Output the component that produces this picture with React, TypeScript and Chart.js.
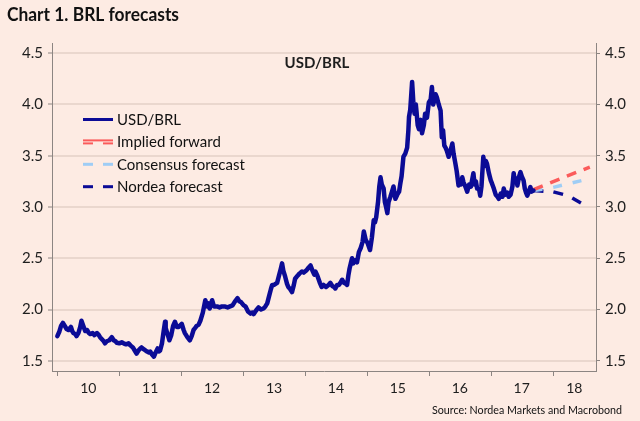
import { useEffect, useRef } from 'react';
import { Chart, registerables } from 'chart.js';

Chart.register(...registerables);

// ---------- data ----------
const chartTitle = 'Chart 1. BRL forecasts';
const innerTitle = 'USD/BRL';
const sourceText = 'Source: Nordea Markets and Macrobond';

const yearBoundaries = [2010, 2011, 2012, 2013, 2014, 2015, 2016, 2017, 2018];
const yearLabels = ['10', '11', '12', '13', '14', '15', '16', '17', '18'];
const yTickValues = [1.5, 2.0, 2.5, 3.0, 3.5, 4.0, 4.5];
const xMin = 2009.914;
const xMax = 2018.7;
const yMin = 1.4;
const yMax = 4.6;

// USD/BRL spot, [decimal year, value]
const usdbrl: [number, number][] = [
  [2010.0, 1.74], [2010.03, 1.78], [2010.06, 1.84], [2010.09, 1.87], [2010.12, 1.84],
  [2010.15, 1.81], [2010.18, 1.8], [2010.22, 1.83], [2010.24, 1.79], [2010.26, 1.77],
  [2010.29, 1.76], [2010.31, 1.74], [2010.34, 1.77], [2010.37, 1.83], [2010.39, 1.89],
  [2010.42, 1.84], [2010.45, 1.79], [2010.48, 1.8], [2010.51, 1.77], [2010.53, 1.76],
  [2010.57, 1.77], [2010.6, 1.75], [2010.64, 1.77], [2010.67, 1.75], [2010.69, 1.73],
  [2010.72, 1.71], [2010.75, 1.69], [2010.77, 1.67], [2010.8, 1.69], [2010.84, 1.7],
  [2010.88, 1.73], [2010.91, 1.7], [2010.94, 1.69], [2010.96, 1.675], [2011.0, 1.67],
  [2011.04, 1.68], [2011.07, 1.67], [2011.11, 1.66], [2011.15, 1.67], [2011.18, 1.65],
  [2011.22, 1.63], [2011.25, 1.6], [2011.28, 1.57], [2011.31, 1.6], [2011.34, 1.62],
  [2011.36, 1.63], [2011.4, 1.61], [2011.45, 1.59], [2011.48, 1.58], [2011.5, 1.59],
  [2011.53, 1.56], [2011.56, 1.54], [2011.58, 1.57], [2011.62, 1.62], [2011.64, 1.59],
  [2011.66, 1.6], [2011.69, 1.67], [2011.72, 1.8], [2011.74, 1.88], [2011.75, 1.82],
  [2011.77, 1.78], [2011.79, 1.74], [2011.81, 1.7], [2011.84, 1.75], [2011.87, 1.84],
  [2011.9, 1.88], [2011.93, 1.83], [2011.96, 1.83], [2012.01, 1.86], [2012.04, 1.8],
  [2012.06, 1.77], [2012.1, 1.73], [2012.14, 1.7], [2012.17, 1.74], [2012.2, 1.8],
  [2012.22, 1.815], [2012.25, 1.84], [2012.28, 1.85], [2012.31, 1.89], [2012.35, 1.97],
  [2012.39, 2.09], [2012.42, 2.03], [2012.44, 2.06], [2012.46, 2.01], [2012.48, 2.05],
  [2012.5, 2.09], [2012.53, 2.03], [2012.58, 2.03], [2012.62, 2.02], [2012.66, 2.03],
  [2012.7, 2.03], [2012.75, 2.02], [2012.79, 2.03], [2012.83, 2.04], [2012.87, 2.08],
  [2012.91, 2.11], [2012.94, 2.08], [2012.97, 2.07], [2013.01, 2.04], [2013.04, 2.03],
  [2013.08, 1.98], [2013.12, 1.96], [2013.15, 1.97], [2013.17, 1.955], [2013.21, 1.99],
  [2013.25, 2.02], [2013.29, 2.0], [2013.33, 2.01], [2013.36, 2.03], [2013.39, 2.06],
  [2013.42, 2.13], [2013.45, 2.2], [2013.47, 2.24], [2013.5, 2.24], [2013.55, 2.26],
  [2013.58, 2.33], [2013.61, 2.4], [2013.63, 2.45], [2013.65, 2.38], [2013.68, 2.32],
  [2013.71, 2.25], [2013.73, 2.22], [2013.76, 2.2], [2013.79, 2.17], [2013.82, 2.24],
  [2013.84, 2.3], [2013.88, 2.33], [2013.91, 2.35], [2013.95, 2.37], [2013.98, 2.36],
  [2014.02, 2.38], [2014.06, 2.41], [2014.09, 2.43], [2014.12, 2.38], [2014.15, 2.34],
  [2014.17, 2.37], [2014.2, 2.33], [2014.24, 2.26], [2014.27, 2.22], [2014.3, 2.24],
  [2014.34, 2.22], [2014.38, 2.24], [2014.41, 2.26], [2014.44, 2.23], [2014.47, 2.22],
  [2014.49, 2.205], [2014.52, 2.24], [2014.55, 2.24], [2014.58, 2.27], [2014.6, 2.29],
  [2014.63, 2.26], [2014.66, 2.25], [2014.68, 2.24], [2014.7, 2.33], [2014.72, 2.4],
  [2014.74, 2.45], [2014.76, 2.5], [2014.78, 2.45], [2014.81, 2.48], [2014.84, 2.46],
  [2014.87, 2.56], [2014.9, 2.6], [2014.93, 2.66], [2014.95, 2.76], [2014.98, 2.68],
  [2015.01, 2.65], [2015.05, 2.58], [2015.08, 2.7], [2015.11, 2.87], [2015.13, 2.85],
  [2015.15, 2.9], [2015.18, 3.05], [2015.2, 3.2], [2015.22, 3.29], [2015.24, 3.22],
  [2015.27, 3.18], [2015.29, 3.05], [2015.31, 3.0], [2015.33, 2.94], [2015.35, 3.05],
  [2015.38, 3.1], [2015.41, 3.16], [2015.43, 3.2], [2015.46, 3.08], [2015.49, 3.12],
  [2015.52, 3.15], [2015.54, 3.23], [2015.56, 3.3], [2015.59, 3.49], [2015.62, 3.52],
  [2015.65, 3.58], [2015.67, 3.75], [2015.68, 3.88], [2015.7, 3.95], [2015.73, 4.22],
  [2015.75, 4.02], [2015.77, 3.91], [2015.79, 4.0], [2015.8, 3.94], [2015.82, 3.8],
  [2015.84, 3.76], [2015.87, 3.85], [2015.89, 3.72], [2015.92, 3.8], [2015.94, 3.91],
  [2015.97, 3.87], [2016.0, 4.02], [2016.03, 4.05], [2016.05, 4.17], [2016.07, 4.0],
  [2016.09, 4.04], [2016.11, 4.1], [2016.13, 4.07], [2016.16, 4.0], [2016.19, 3.94],
  [2016.21, 3.68], [2016.23, 3.75], [2016.25, 3.6], [2016.27, 3.58], [2016.29, 3.55],
  [2016.32, 3.49], [2016.35, 3.55], [2016.38, 3.62], [2016.4, 3.52], [2016.43, 3.42],
  [2016.45, 3.35], [2016.48, 3.21], [2016.5, 3.25], [2016.52, 3.22], [2016.54, 3.29],
  [2016.56, 3.24], [2016.59, 3.2], [2016.62, 3.15], [2016.65, 3.22], [2016.68, 3.2],
  [2016.72, 3.33], [2016.74, 3.22], [2016.76, 3.25], [2016.78, 3.18], [2016.81, 3.18],
  [2016.83, 3.11], [2016.85, 3.2], [2016.88, 3.49], [2016.9, 3.4], [2016.92, 3.45],
  [2016.94, 3.42], [2016.97, 3.33], [2017.0, 3.26], [2017.02, 3.23], [2017.05, 3.18],
  [2017.08, 3.12], [2017.11, 3.1], [2017.13, 3.08], [2017.16, 3.13], [2017.19, 3.1],
  [2017.21, 3.18], [2017.24, 3.12], [2017.27, 3.14], [2017.29, 3.1], [2017.32, 3.12],
  [2017.35, 3.2], [2017.37, 3.33], [2017.39, 3.25], [2017.41, 3.28], [2017.43, 3.21],
  [2017.46, 3.3], [2017.48, 3.34], [2017.5, 3.3], [2017.53, 3.26], [2017.55, 3.18],
  [2017.57, 3.14], [2017.59, 3.11], [2017.61, 3.14], [2017.64, 3.195], [2017.66, 3.15],
  [2017.69, 3.16],
];

const impliedForward: [number, number][] = [[2017.69, 3.17], [2018.6, 3.39]];
const consensusForecast: [number, number][] = [[2017.69, 3.16], [2018.0, 3.19], [2018.48, 3.26]];
const nordeaForecast: [number, number][] = [[2017.69, 3.16], [2018.0, 3.15], [2018.25, 3.11], [2018.48, 3.03]];

// ---------- styles ----------
const BG = '#fdebe3';
const NAVY = '#0b0b96';
const RED = '#fb5b5b';
const LIGHTBLUE = '#9fcdf5';
const GRID = '#ead7ce';
const AXIS = '#8c8582';
const TEXT = '#1e1e1e';
const FONT = 'Lato, "Open Sans", sans-serif';

const toXY = (arr: [number, number][]) => arr.map(([x, y]) => ({ x, y }));

const decorPlugin = {
  id: 'decor',
  afterDraw(chart: any) {
    const { ctx, chartArea, scales } = chart;
    const xs = scales.x;
    ctx.save();
    // year boundary tick marks on x axis
    ctx.strokeStyle = AXIS;
    ctx.lineWidth = 1;
    yearBoundaries.forEach((yr) => {
      const px = Math.round(xs.getPixelForValue(yr)) + 0.5;
      ctx.beginPath();
      ctx.moveTo(px, chartArea.bottom);
      ctx.lineTo(px, chartArea.bottom + 5);
      ctx.stroke();
    });

    // inner title
    ctx.fillStyle = TEXT;
    ctx.font = `bold 15px ${FONT}`;
    ctx.textAlign = 'center';
    ctx.textBaseline = 'middle';
    ctx.fillText(innerTitle, (chartArea.left + chartArea.right) / 2 - 7, chartArea.top + 20.5);

    // legend
    const lx = chartArea.left + 31;
    const sw = 30;
    let ly = chartArea.top + 76.5;
    ctx.font = `15px ${FONT}`;
    ctx.textAlign = 'left';
    chart.data.datasets.forEach((ds: any, i: number) => {
      ctx.strokeStyle = ds.borderColor;
      ctx.lineCap = 'butt';
      if (i === 0) {
        ctx.lineWidth = 3;
        ctx.setLineDash([]);
        ctx.beginPath();
        ctx.moveTo(lx, ly);
        ctx.lineTo(lx + sw, ly);
        ctx.stroke();
      } else if (i === 1) {
        ctx.lineWidth = 2;
        ctx.setLineDash([]);
        ctx.beginPath();
        ctx.moveTo(lx, ly - 1.5);
        ctx.lineTo(lx + sw, ly - 1.5);
        ctx.stroke();
        ctx.setLineDash([10, 10]);
        ctx.beginPath();
        ctx.moveTo(lx, ly + 1.5);
        ctx.lineTo(lx + sw, ly + 1.5);
        ctx.stroke();
      } else {
        ctx.lineWidth = 3;
        ctx.setLineDash([10, 10]);
        ctx.beginPath();
        ctx.moveTo(lx, ly);
        ctx.lineTo(lx + sw, ly);
        ctx.stroke();
      }
      ctx.setLineDash([]);
      ctx.fillStyle = '#111';
      ctx.fillText(ds.label, lx + sw + 4, ly + 0.5);
      ly += 22.4;
    });

    // main title
    ctx.fillStyle = '#111';
    ctx.font = `bold 18px ${FONT}`;
    ctx.textAlign = 'left';
    ctx.textBaseline = 'alphabetic';
    const tw = ctx.measureText(chartTitle).width;
    const sx = Math.min(1, 172 / tw);
    ctx.save();
    ctx.translate(7, 21);
    ctx.scale(sx, 1);
    ctx.fillText(chartTitle, 0, 0);
    ctx.restore();

    // source
    ctx.font = `11px ${FONT}`;
    const sw2 = ctx.measureText(sourceText).width;
    const ss = Math.min(1, 190 / sw2);
    ctx.save();
    ctx.translate(622, 413.5);
    ctx.scale(ss, 1);
    ctx.textAlign = 'right';
    ctx.fillText(sourceText, 0, 0);
    ctx.restore();

    ctx.restore();
  },
};

export default function App() {
  const ref = useRef<HTMLCanvasElement | null>(null);

  useEffect(() => {
    document.body.style.margin = '0';
    const canvas = ref.current;
    if (!canvas) return;

    const labelPositions = yearBoundaries.map((b, i) =>
      i < yearBoundaries.length - 1 ? (b + yearBoundaries[i + 1]) / 2 : (b + xMax) / 2
    );

    const chart = new Chart(canvas, {
      type: 'line',
      data: {
        datasets: [
          {
            label: 'USD/BRL',
            data: toXY(usdbrl),
            borderColor: NAVY,
            borderWidth: 4.5,
            pointRadius: 0,
            tension: 0,
            borderJoinStyle: 'round',
            borderCapStyle: 'round',
          },
          {
            label: 'Implied forward',
            data: toXY(impliedForward),
            borderColor: RED,
            borderWidth: 3.5,
            borderDash: [10, 8],
            pointRadius: 0,
          },
          {
            label: 'Consensus forecast',
            data: toXY(consensusForecast),
            borderColor: LIGHTBLUE,
            borderWidth: 3.5,
            borderDash: [9, 11],
            pointRadius: 0,
          },
          {
            label: 'Nordea forecast',
            data: toXY(nordeaForecast),
            borderColor: NAVY,
            borderWidth: 3.5,
            borderDash: [10, 10],
            pointRadius: 0,
          },
        ],
      },
      options: {
        animation: false,
        responsive: false,
        devicePixelRatio: 1,
        layout: { padding: { top: 43, left: 0, right: 0, bottom: 0 } },
        plugins: {
          legend: { display: false },
          title: { display: false },
          tooltip: { enabled: false },
        },
        scales: {
          x: {
            type: 'linear',
            min: xMin,
            max: xMax,
            afterBuildTicks: (scale: any) => {
              scale.ticks = labelPositions.map((v) => ({ value: v }));
            },
            afterFit: (scale: any) => {
              scale.height = 50;
            },
            ticks: {
              autoSkip: false,
              maxRotation: 0,
              padding: 9,
              color: TEXT,
              font: { family: FONT, size: 14 },
              callback: (_v: any, i: number) => yearLabels[i],
            },
            grid: { display: false, drawTicks: false },
            border: { display: true, color: AXIS, width: 1 },
          },
          y: {
            type: 'linear',
            position: 'left',
            min: yMin,
            max: yMax,
            afterBuildTicks: (scale: any) => {
              scale.ticks = yTickValues.map((v) => ({ value: v }));
            },
            afterFit: (scale: any) => {
              scale.width = 52;
            },
            ticks: {
              padding: 5,
              color: TEXT,
              font: { family: FONT, size: 15 },
              callback: (v: any) => Number(v).toFixed(1),
            },
            grid: { color: GRID, lineWidth: 2, tickColor: AXIS, tickLength: 4, tickWidth: 1 },
            border: { display: true, color: AXIS, width: 1 },
          },
          y1: {
            type: 'linear',
            position: 'right',
            min: yMin,
            max: yMax,
            afterBuildTicks: (scale: any) => {
              scale.ticks = yTickValues.map((v) => ({ value: v }));
            },
            afterFit: (scale: any) => {
              scale.width = 44;
            },
            ticks: {
              padding: 5,
              color: TEXT,
              font: { family: FONT, size: 15 },
              callback: (v: any) => Number(v).toFixed(1),
            },
            grid: { drawOnChartArea: false, tickColor: AXIS, tickLength: 4, tickWidth: 1 },
            border: { display: true, color: AXIS, width: 1 },
          },
        },
      },
      plugins: [decorPlugin],
    } as any);

    return () => chart.destroy();
  }, []);

  return (
    <div style={{ width: 640, height: 421, background: BG, position: 'relative' }}>
      <canvas ref={ref} width={640} height={421} style={{ display: 'block', width: 640, height: 421 }} />
    </div>
  );
}
